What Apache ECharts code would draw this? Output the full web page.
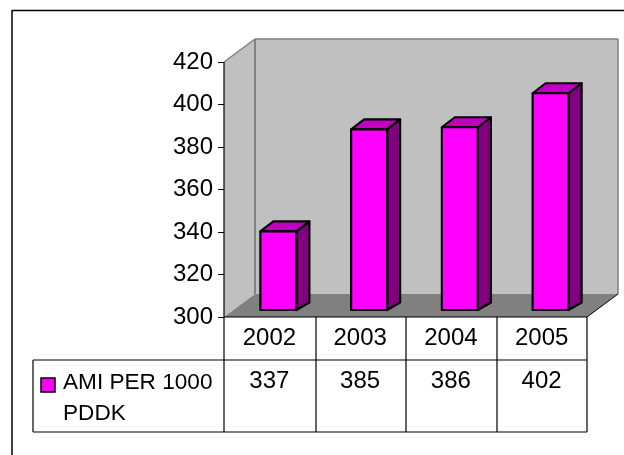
<!DOCTYPE html>
<html>
<head>
<meta charset="utf-8">
<style>html,body{margin:0;padding:0;background:#fff}#chart{width:624px;height:455px}</style>
<script src="https://cdn.jsdelivr.net/npm/echarts@6/dist/echarts.min.js"></script>
</head>
<body>
<div id="chart"></div>
<script>
const years = ['2002', '2003', '2004', '2005'];
const amiPer1000 = [337, 385, 386, 402];
const seriesName = 'AMI PER 1000\nPDDK';
const yTicks = [300, 320, 340, 360, 380, 400, 420];

const FONT = '"Liberation Sans", Arial, sans-serif';
const FS = 24, LEGEND_FS = 22.6;
const L = 224, R = 587, T = 62, B = 317;
const DX = 31, DY = 23;          // depth of the 3D box
const BAR_W = 36, BAR_DX = 13, BAR_DY = 10, BAR_BASE_DY = 7.5;
const BAR_SHIFT_X = 9, BAR_SHIFT_Y = 7;
const TABLE_MID = 360, TABLE_BOTTOM = 432, LEGEND_L = 33;

const chart = echarts.init(document.getElementById('chart'), null, {renderer: 'canvas'});

const line = (x1, y1, x2, y2, stroke, w, z) => ({
  type: 'line', z: z || 1, silent: true,
  shape: {x1, y1, x2, y2}, style: {stroke, lineWidth: w || 1}
});
const poly = (points, fill, z) => ({
  type: 'polygon', z: z || 0, silent: true, shape: {points}, style: {fill}
});

// Walls, floor, frame and the grid of the data table
const colX = years.map((_, i) => Math.round(L + (R - L) * i / years.length + 0.75));
const graphics = [
  line(12, 10.5, 624, 10.5, '#000', 1.5),
  line(12, 10, 12, 455, '#000', 1.5),
  poly([[L, T], [L + DX, T - DY], [L + DX, B - DY], [L, B]], '#c0c0c0'),
  poly([[L + DX, T - DY], [R + DX, T - DY], [R + DX, B - DY], [L + DX, B - DY]], '#c0c0c0'),
  poly([[L, B], [L + DX, B - DY], [R + DX, B - DY], [R, B]], '#808080'),
  line(L, T, L + DX, T - DY, '#808080', 1.5),
  line(L + DX, T - DY, R + DX, T - DY, '#808080', 1.5),
  line(R + DX, T - DY, R + DX, B - DY, '#808080', 1.5),
  line(L + DX, T - DY, L + DX, B - DY, '#808080', 2),
  line(R, B, R + DX, B - DY, '#000', 1),
  line(L, B, R, B, '#000', 1.2),
  line(L, T, L, TABLE_BOTTOM, '#000', 1.2),
  line(LEGEND_L, TABLE_MID, R, TABLE_MID, '#000', 1.2),
  line(LEGEND_L, TABLE_BOTTOM, R, TABLE_BOTTOM, '#000', 1.2),
  line(LEGEND_L, TABLE_MID, LEGEND_L, TABLE_BOTTOM, '#000', 1.2),
  line(R, B, R, TABLE_BOTTOM, '#000', 1.2),
  {type: 'rect', z: 3, silent: true, shape: {x: 41, y: 378, width: 14, height: 14},
    style: {fill: '#ff00ff', stroke: '#000', lineWidth: 1.5}},
  {type: 'text', z: 3, silent: true, x: 63, y: 398,
    style: {text: seriesName, fill: '#000', font: LEGEND_FS + 'px ' + FONT, lineHeight: 31,
      textVerticalAlign: 'middle'}}
];
colX.slice(1).forEach(x => graphics.push(line(x, B, x, TABLE_BOTTOM, '#000', 1.2)));

// One box per year: front face, lit top and shaded side
function renderBar(params, api) {
  const idx = api.value(0);
  const top = api.coord([idx, api.value(1)]);
  const base = api.coord([idx, yTicks[0]]);
  const x0 = top[0] + BAR_SHIFT_X - BAR_W / 2, x1 = x0 + BAR_W;
  const yt = top[1] - BAR_SHIFT_Y, yb = base[1] - BAR_SHIFT_Y;
  const stroke = {stroke: '#000', lineWidth: 2.2, lineJoin: 'round'};
  return {
    type: 'group',
    children: [
      {type: 'polygon', shape: {points: [[x1, yt], [x1 + BAR_DX, yt - BAR_DY], [x1 + BAR_DX, yb - BAR_BASE_DY], [x1, yb]]},
        style: {fill: '#800080', ...stroke}},
      {type: 'polygon', shape: {points: [[x0, yt], [x0 + BAR_DX, yt - BAR_DY], [x1 + BAR_DX, yt - BAR_DY], [x1, yt]]},
        style: {fill: '#c000c0', ...stroke}},
      {type: 'rect', shape: {x: x0, y: yt, width: BAR_W, height: yb - yt},
        style: {fill: '#ff00ff', ...stroke}}
    ]
  };
}

// Values in the second row of the table, aligned with their year column
function renderCell(params, api) {
  const pt = api.coord([api.value(0), yTicks[0]]);
  return {
    type: 'text',
    x: pt[0], y: 381,
    style: {text: String(api.value(1)), fill: '#000', font: FS + 'px ' + FONT, textAlign: 'center', textVerticalAlign: 'middle'}
  };
}

chart.setOption({
  animation: false,
  backgroundColor: '#fff',
  grid: {left: L, right: 624 - R, top: T, bottom: 455 - B},
  xAxis: {
    type: 'category', data: years,
    axisLine: {show: false}, axisTick: {show: false},
    axisLabel: {color: '#000', fontFamily: FONT, fontSize: FS, margin: 9}
  },
  yAxis: {
    type: 'value', min: yTicks[0], max: yTicks[yTicks.length - 1], interval: 20,
    splitLine: {show: false},
    axisLine: {show: false},
    axisTick: {show: true, length: 6, lineStyle: {color: '#000', width: 1}},
    axisLabel: {color: '#000', fontFamily: FONT, fontSize: FS, margin: 11}
  },
  graphic: {elements: graphics},
  series: [
    {type: 'custom', name: seriesName, renderItem: renderBar, z: 5,
      data: amiPer1000.map((v, i) => [i, v])},
    {type: 'custom', renderItem: renderCell, z: 5, clip: false,
      data: amiPer1000.map((v, i) => [i, v])}
  ]
});
</script>
</body>
</html>
